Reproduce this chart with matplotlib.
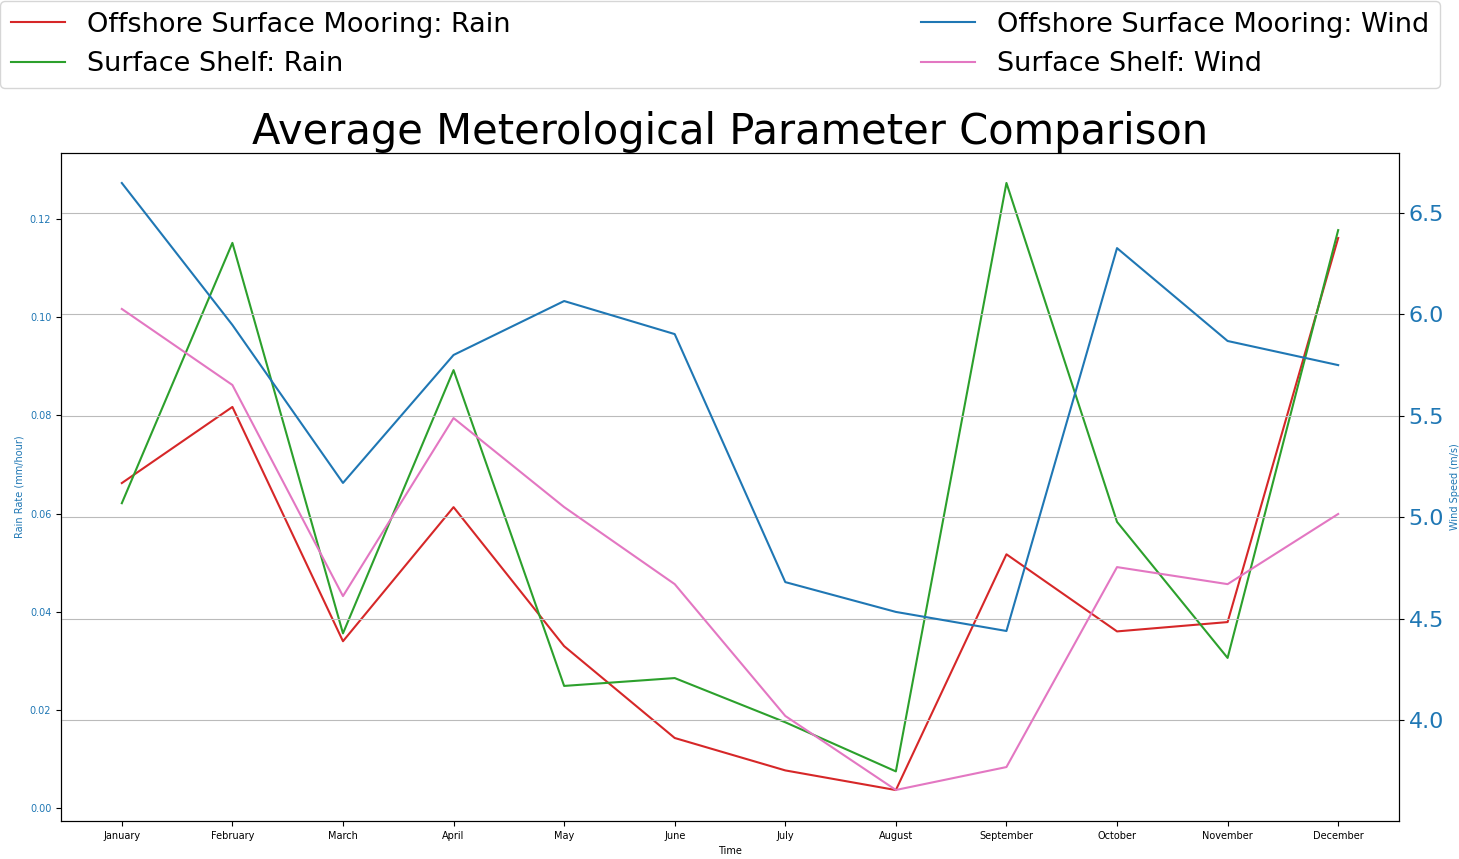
import matplotlib
matplotlib.use("Agg")
import matplotlib.pyplot as plt

months = ["January", "February", "March", "April", "May", "June", "July",
          "August", "September", "October", "November", "December"]
rain_offshore = [0.0662, 0.0817, 0.0340, 0.0613, 0.0330, 0.0143, 0.0077,
                 0.0037, 0.0517, 0.0360, 0.0379, 0.1161]
rain_shelf = [0.0621, 0.1151, 0.0356, 0.0892, 0.0249, 0.0265, 0.0175,
              0.0075, 0.1273, 0.0583, 0.0306, 0.1177]
wind_offshore = [6.648, 5.948, 5.169, 5.800, 6.066, 5.903, 4.680,
                 4.533, 4.439, 6.327, 5.869, 5.750]
wind_shelf = [6.027, 5.652, 4.611, 5.489, 5.050, 4.670, 4.020,
              3.655, 3.768, 4.754, 4.670, 5.016]

fig = plt.figure(figsize=(14.59, 8.59), dpi=100)
ax = fig.add_axes([61/1459, 1-821/859, (1399-61)/1459, (821-153)/859])
ax2 = ax.twinx()

l1, = ax.plot(months, rain_offshore, color="tab:red", label="Offshore Surface Mooring: Rain")
l2, = ax.plot(months, rain_shelf, color="tab:green", label="Surface Shelf: Rain")
l3, = ax2.plot(months, wind_offshore, color="tab:blue", label="Offshore Surface Mooring: Wind")
l4, = ax2.plot(months, wind_shelf, color="tab:pink", label="Surface Shelf: Wind")

ax.set_ylim(-0.0026, 0.1334)
ax2.set_ylim(3.502, 6.796)
ax.set_yticks([0, 0.02, 0.04, 0.06, 0.08, 0.10, 0.12])
ax.set_xlabel("Time", fontsize=7)
ax.set_ylabel("Rain Rate (mm/hour)", color="tab:blue", fontsize=7)
ax2.set_ylabel("Wind Speed (m/s)", color="tab:blue", fontsize=7)
ax.tick_params(axis="x", labelsize=7)
ax.tick_params(axis="y", labelsize=7, labelcolor="tab:blue")
ax2.tick_params(axis="y", labelsize=16, labelcolor="tab:blue")
ax2.grid(True, axis="y", color="#bbbbbb")

ax.set_title("Average Meterological Parameter Comparison", fontsize=30)
fig.legend(handles=[l1, l2, l3, l4], loc="lower left",
           bbox_to_anchor=(0.0, 1-88/859, 987/1000, 84/859), mode="expand",
           ncol=2, fontsize=19.5, borderaxespad=0)

fig.savefig("out.png", dpi=100)
